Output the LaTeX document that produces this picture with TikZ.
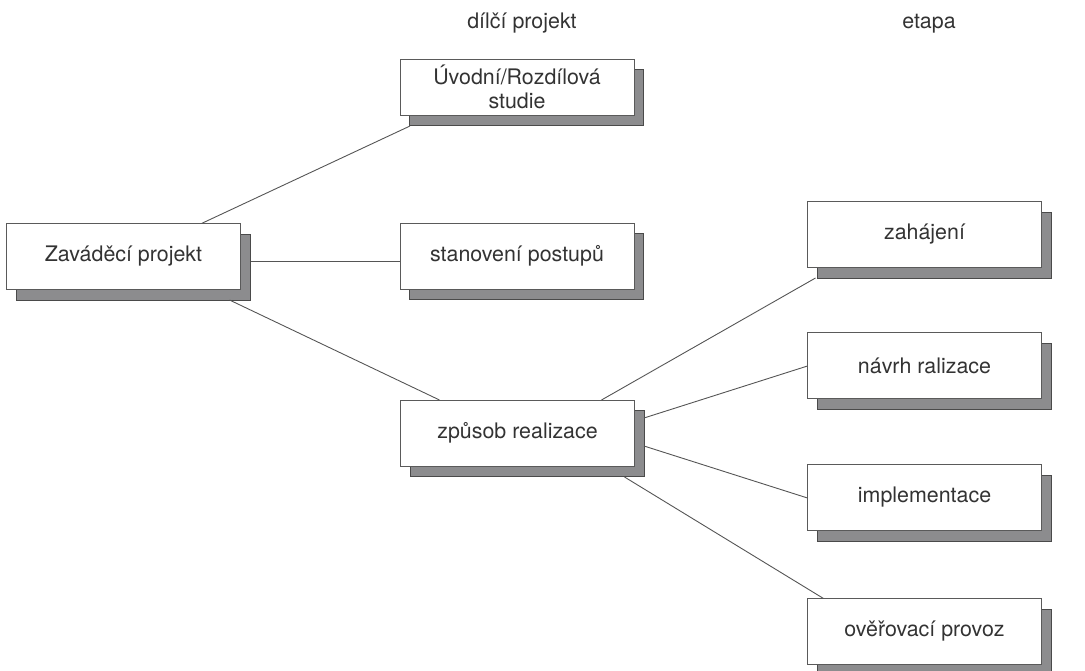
\documentclass[tikz,border=0pt]{standalone}
\usepackage{fontspec}
\setmainfont{TeX Gyre Heros}
\usetikzlibrary{shadows,calc}
\definecolor{txt}{HTML}{333333}
\definecolor{boxline}{HTML}{5A5A5A}
\definecolor{shadowfill}{HTML}{8C8C8E}
\definecolor{shadowline}{HTML}{4A4A4A}
\definecolor{conn}{HTML}{555555}
\begin{document}
\begin{tikzpicture}[x=1pt,y=-1pt,
  stepbox/.style={draw=boxline, line width=0.9pt, fill=white, inner sep=0pt, outer sep=0pt,
    minimum width=234pt, minimum height=66pt, text=txt, align=center,
    font=\fontsize{21.4}{23.5}\selectfont,
    drop shadow={shadow xshift=9.5pt, shadow yshift=-10.5pt, opacity=1, fill=shadowfill, draw=shadowline, line width=0.9pt}},
  header/.style={text=txt, font=\fontsize{21.4}{23.5}\selectfont, anchor=base, inner sep=0pt},
  link/.style={draw=conn, line width=0.9pt}]
\useasboundingbox (0,0) rectangle (1085,671);
\node[header] (h1) at (522,29) {dílčí projekt};
\node[header] (h2) at (929,29) {etapa};
\node[stepbox] (z) at (123.5,256.5) {Zaváděcí projekt};
\node[stepbox, minimum height=56pt] (uvod) at (517,87) {Úvodní/Rozdílová\\studie};
\node[stepbox] (stan) at (517,256) {stanovení postupů};
\node[stepbox] (zp) at (517.5,433) {způsob realizace};
\node[stepbox] (zah) at (924.5,234.5) {zahájení};
\node[stepbox] (nav) at (924.5,365.5) {návrh ralizace};
\node[stepbox] (imp) at (924.5,497.5) {implementace};
\node[stepbox] (ove) at (924.5,631.5) {ověřovací provoz};
\draw[link] ($(z.north west)+(195,0)$) -- ($(uvod.south west)+(10,11)$);
\draw[link] ($(z.east)+(10,4.5)$) -- ($(stan.west)+(0,5)$);
\draw[link] ($(z.south west)+(223,10.5)$) -- ($(zp.north west)+(39,0)$);
\draw[link] ($(zp.north west)+(201,0)$) -- ($(zah.south west)+(8,10.5)$);
\draw[link] ($(zp.east)+(9.5,-15)$) -- ($(nav.west)+(0,0.5)$);
\draw[link] ($(zp.east)+(9.5,13)$) -- ($(imp.west)+(0,0.5)$);
\draw[link] ($(zp.south west)+(224,11)$) -- ($(ove.north west)+(16,0)$);
\end{tikzpicture}
\end{document}
